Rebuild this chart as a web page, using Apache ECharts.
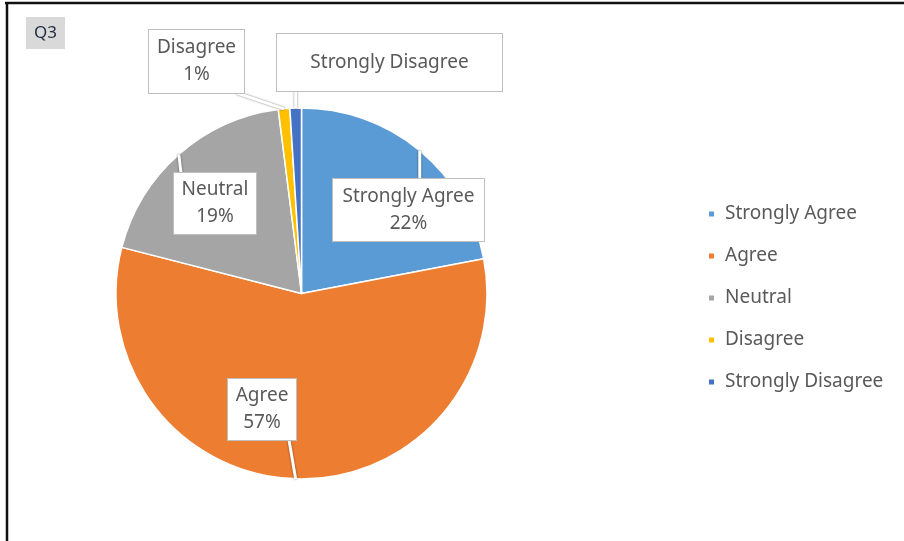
<!DOCTYPE html>
<html><head><meta charset="utf-8">
<script src="https://cdn.jsdelivr.net/npm/echarts@6/dist/echarts.min.js"></script>
<style>html,body{margin:0;padding:0;background:#fff}#c{width:904px;height:541px}</style>
</head><body><div id="c"></div>
<script>
// ---- data ----
const categories = ['Strongly Agree', 'Agree', 'Neutral', 'Disagree', 'Strongly Disagree'];
const values = [22, 57, 19, 1, 1];
const showPercent = [true, true, true, true, false];
const titleText = 'Q3';

// ---- style ----
const colors = ['#5B9BD5', '#ED7D31', '#A5A5A5', '#FFC000', '#4472C4'];
// callout boxes: [left, top, width, height]
const boxes = [[332, 178, 153, 64], [227, 378, 70, 63], [173, 172, 84, 63], [148, 29, 97, 65], [276, 33, 227, 59]];
const FONT = 'Noto Sans';
const FS = 19;
const LH = 27;
const CENTER = [301.5, 293.5];
const RADIUS = 185.5;

const chart = echarts.init(document.getElementById('c'), null, {renderer: 'canvas'});

const pieData = categories.map((name, i) => ({name, value: values[i], itemStyle: {color: colors[i]}}));

const labelData = categories.map((name, i) => {
  const b = boxes[i];
  const lines = showPercent[i] ? 2 : 1;
  const pv = Math.max(0, (b[3] - 2 - lines * LH) / 2);
  return {
    name, value: values[i],
    itemStyle: {color: 'rgba(0,0,0,0)'},
    label: {width: b[2] - 2, padding: [pv + 1, 0, pv - 1, 0]}
  };
});

chart.setOption({
  animation: false,
  title: {
    text: titleText, left: 26, top: 17,
    backgroundColor: '#d9d9d9', padding: [6, 8],
    textStyle: {fontFamily: FONT, fontSize: 17, fontWeight: 'normal', color: '#1f2a44', lineHeight: 20}
  },
  legend: {
    orient: 'vertical', left: 702, top: 199,
    itemWidth: 7, itemHeight: 7, itemGap: 22, icon: 'rect',
    data: categories.map((n, i) => ({name: n, itemStyle: {color: colors[i], opacity: 1}})),
    textStyle: {fontFamily: FONT, fontSize: FS, color: '#595959', lineHeight: 20, padding: [0, 0, 0, 5]}
  },
  graphic: [
    {type: 'line', shape: {x1: 5, y1: 3, x2: 904, y2: 3}, style: {stroke: '#111', lineWidth: 2.5}, silent: true},
    {type: 'line', shape: {x1: 7, y1: 2, x2: 7, y2: 541}, style: {stroke: '#111', lineWidth: 2.5}, silent: true}
  ],
  series: [{
    type: 'pie', z: 2,
    center: CENTER, radius: RADIUS,
    startAngle: 90, clockwise: true,
    itemStyle: {borderColor: '#fff', borderWidth: 1.5},
    label: {show: false}, labelLine: {show: false},
    data: pieData
  }, {
    type: 'pie', z: 5, silent: true,
    center: CENTER, radius: RADIUS,
    startAngle: 90, clockwise: true,
    avoidLabelOverlap: false,
    itemStyle: {borderWidth: 0},
    label: {
      show: true, position: 'outside',
      formatter: p => showPercent[p.dataIndex] ? p.name + '\n' + Math.round(p.percent) + '%' : p.name,
      fontFamily: FONT, fontSize: FS, color: '#595959', lineHeight: LH,
      backgroundColor: '#fff', borderColor: '#bfbfbf', borderWidth: 1, align: 'center'
    },
    labelLine: {show: true, length: 0, length2: 0,
      lineStyle: {color: '#ffffff', width: 3, shadowBlur: 2, shadowColor: 'rgba(0,0,0,0.55)'}},
    labelLayout: function (p) {
      const b = boxes[p.dataIndex];
      const res = {x: b[0] + b[2] / 2, y: b[1] + b[3] / 2, align: 'center', verticalAlign: 'middle'};
      const pts = p.labelLinePoints;
      if (pts && pts.length) {
        const a = pts[0];
        const tx = Math.min(Math.max(a[0], b[0] + 8), b[0] + b[2] - 8);
        const ty = Math.min(Math.max(a[1], b[1] + 1), b[1] + b[3] - 1);
        res.labelLinePoints = [a, [tx, ty], [tx, ty]];
      }
      return res;
    },
    data: labelData
  }]
});
</script></body></html>
